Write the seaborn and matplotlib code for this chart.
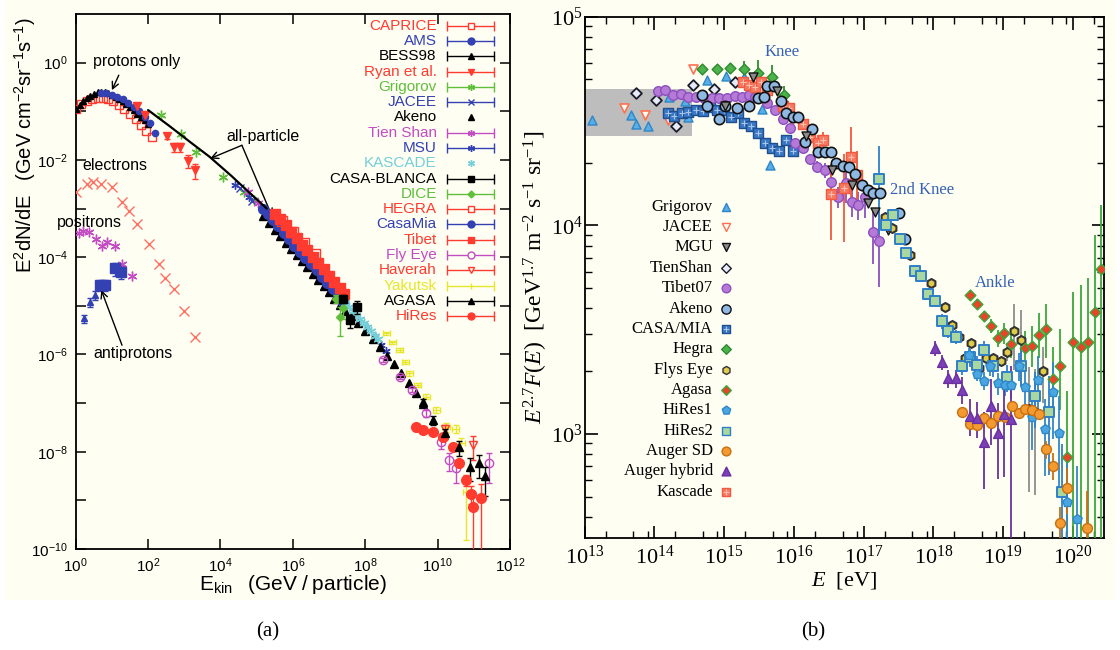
import numpy as np
import matplotlib
matplotlib.use("Agg")
import matplotlib.pyplot as plt
import seaborn as sns
from matplotlib.patches import Rectangle
from matplotlib.ticker import NullLocator, NullFormatter, FixedLocator

# ---------------- panel (a): E^2 dN/dE versus kinetic energy ----------------
caprice_E = [1.0, 1.4, 2.0, 2.8, 4.0, 5.6, 8.0, 11, 16, 22, 32, 45, 63, 90, 125]
caprice_F = [0.11, 0.14, 0.165, 0.18, 0.19, 0.19, 0.18, 0.16, 0.135, 0.11, 0.088, 0.068, 0.052, 0.04, 0.03]
ams_E = [5, 7, 10, 14, 20, 28, 40, 56, 80, 110, 160]
ams_F = [0.24, 0.235, 0.22, 0.2, 0.175, 0.15, 0.125, 0.1, 0.078, 0.058, 0.035]
bess_E = [1.0, 1.3, 1.6, 2.0, 2.5, 3.2, 4.0, 5.0, 6.3, 8, 10, 13, 16, 20, 25, 32, 40, 50, 63, 80, 100]
bess_F = [0.11, 0.135, 0.16, 0.185, 0.21, 0.23, 0.245, 0.25, 0.245, 0.235, 0.22, 0.2, 0.18, 0.16,
          0.14, 0.12, 0.105, 0.09, 0.078, 0.066, 0.056]
ryan_E = [49, 80, 330, 512, 743, 1256, 1990]
ryan_F = [0.128, 0.083, 0.031, 0.0186, 0.0186, 0.0096, 0.0062]
ryan_err = [0.1, 0.12, 0.15, 0.2, 0.2, 0.3, 0.35]
grigorov_E = [228, 828, 2120, 1.17e4, 4.5e4, 8.7e4]
grigorov_F = [0.083, 0.034, 0.0147, 0.0045, 0.0022, 0.0015]
jacee_E = [3.5e4, 7.2e4, 3.5e5]
jacee_F = [0.0026, 0.0014, 0.0008]
tienshan_E = [5.8e4, 1.1e5]
tienshan_F = [0.0022, 0.0013]
msu_E = [2.5e4, 6e4, 1.1e8, 1.8e8, 2.8e8, 3.8e8]
msu_F = [0.0031, 0.0017, 3.7e-6, 2.4e-6, 1.6e-6, 1.2e-6]
allpart_E = [100, 400, 1500, 5000, 2e4, 8e4, 1.9e5]
allpart_F = [0.106, 0.049, 0.0229, 0.0116, 0.0047, 0.0018, 0.001]
tibet_E = [3.2e5, 4.5e5, 6.3e5, 8.9e5, 1.26e6, 1.78e6, 2.5e6, 3.5e6, 5.0e6, 7.1e6, 1.0e7, 1.4e7, 2.0e7, 2.6e7]
tibet_F = [7.9e-4, 6.0e-4, 4.5e-4, 3.3e-4, 2.45e-4, 1.8e-4, 1.38e-4, 1.02e-4, 7.6e-5, 5.6e-5,
           4.2e-5, 3.1e-5, 2.3e-5, 1.74e-5]
casamia_E = [1.5e5, 2.0e5, 2.8e5, 4.0e5, 5.6e5, 7.9e5, 1.1e6, 1.6e6, 2.2e6, 3.2e6, 4.5e6, 6.3e6,
             8.9e6, 1.26e7, 1.8e7, 2.5e7]
casamia_F = [1.0e-3, 7.8e-4, 5.8e-4, 4.3e-4, 3.2e-4, 2.35e-4, 1.74e-4, 1.29e-4, 9.8e-5, 7.2e-5,
             5.4e-5, 4.0e-5, 2.95e-5, 2.2e-5, 1.62e-5, 1.2e-5]
akeno_E = [1.5e5, 2.2e5, 3.2e5, 4.5e5, 6.3e5, 8.9e5, 1.26e6, 1.8e6, 2.5e6, 3.5e6, 5.0e6, 7.1e6,
           1.0e7, 1.4e7, 2.0e7, 2.8e7, 4e7, 6.3e7, 1e8, 1.6e8, 2.5e8, 4e8, 6.3e8, 1e9, 1.6e9,
           2.5e9, 4e9]
akeno_F = [7.1e-4, 5.0e-4, 3.7e-4, 2.75e-4, 2.0e-4, 1.5e-4, 1.12e-4, 8.3e-5, 6.2e-5, 4.6e-5,
           3.4e-5, 2.6e-5, 1.9e-5, 1.4e-5, 1.05e-5, 7.8e-6, 6.3e-6, 4.4e-6, 3.0e-6, 2.1e-6,
           1.41e-6, 9.5e-7, 6.3e-7, 4.2e-7, 2.6e-7, 1.58e-7, 9.5e-8]
hegra_E = [5e5, 1e6, 2e6, 4e6]
hegra_F = [5.6e-4, 3.3e-4, 1.95e-4, 1.15e-4]
casablanca_E = [2.4e7, 3.7e7, 5.9e7]
casablanca_F = [1.4e-5, 5.1e-6, 9.5e-6]
casablanca_err = [0.2, 0.3, 0.3]
dice_E = [1.6e7, 2.0e7, 2.4e7]
dice_F = [1.4e-5, 6.0e-6, 9.0e-6]
dice_err = [0.2, 0.6, 0.4]
kascade_E = [2.8e7, 3.5e7, 4.5e7, 5.6e7, 7e7, 9e7, 1.1e8, 1.4e8, 1.8e8, 2.2e8]
kascade_F = [1.12e-5, 9.5e-6, 7.8e-6, 6.5e-6, 5.4e-6, 4.4e-6, 3.7e-6, 3.0e-6, 2.45e-6, 2.1e-6]
yakutsk_E = [3.8e8, 5.6e8, 8.9e8, 1.26e9, 1.66e9, 2.8e9, 4.8e9, 9.1e9, 1.7e10, 3.2e10, 4.5e10, 6.2e10]
yakutsk_F = [2.7e-6, 1.78e-6, 1.23e-6, 7.1e-7, 4.1e-7, 2.4e-7, 1.35e-7, 7.2e-8, 3.2e-8, 3.0e-8,
             1.48e-8, 1.5e-9]
yakutsk_err = [0.08, 0.08, 0.08, 0.1, 0.1, 0.1, 0.12, 0.15, 0.2, 0.2, 0.3, 0.9]
flyeye_E = [3.1e8, 8.9e8, 2.0e9, 4.8e9, 1.26e10, 2.1e10, 3.2e10, 2.7e11]
flyeye_F = [7.6e-7, 3.5e-7, 1.86e-7, 6.2e-8, 1.6e-8, 6.8e-9, 4.6e-9, 5.8e-9]
flyeye_err = [0.1, 0.1, 0.1, 0.15, 0.3, 0.4, 0.5, 0.6]
haverah_E = [1.6e10, 9.3e10]
haverah_F = [3.0e-8, 1.38e-8]
haverah_err = [0.2, 0.5]
agasa_a_E = [3.9e9, 7.4e9, 1.6e10, 4.0e10, 7.6e10, 1.35e11, 2.0e11]
agasa_a_F = [1.07e-7, 4.5e-8, 2.4e-8, 1.26e-8, 4.9e-9, 5.8e-9, 3.1e-9]
agasa_a_err = [0.15, 0.2, 0.25, 0.35, 0.5, 0.5, 0.6]
hires_a_E = [2.6e9, 3.9e9, 7.4e9, 1.38e10, 2.6e10, 4.0e10, 6.2e10, 8.3e10, 9.3e10, 1.6e11]
hires_a_F = [3.2e-8, 2.8e-8, 2.6e-8, 2.0e-8, 1.26e-8, 5.8e-9, 2.6e-9, 1.38e-9, 7.4e-10, 1.1e-9]
hires_a_err = [0.05, 0.05, 0.05, 0.08, 0.1, 0.15, 0.25, 0.4, 0.99, 0.99]
electron_E = [1.05, 2.07, 3.0, 4.95, 10, 19.2, 29.8, 49.3, 104, 200, 297, 512, 986, 1950]
electron_F = [2.15e-3, 3.13e-3, 3.56e-3, 3.13e-3, 2.8e-3, 1.38e-3, 8.9e-4, 4.8e-4, 1.83e-4,
              7.2e-5, 3.66e-5, 2.18e-5, 7.9e-6, 2.24e-6]
positron_E = [1.2, 1.56, 2.3, 3.73, 5.4, 7.5, 12.4, 19.2, 37]
positron_F = [3.08e-4, 3.44e-4, 3.23e-4, 2.35e-4, 1.69e-4, 2.08e-4, 1.69e-4, 7.1e-5, 4.1e-5]
pbar_bess_E = [1.73, 2.52, 3.49]
pbar_bess_F = [5.5e-6, 1.21e-5, 1.66e-5]
pbar_bess_err = [0.2, 0.2, 0.2]
pbar_ams_E = [4.65, 6.44, 11.9, 18]
pbar_ams_F = [2.67e-5, 2.67e-5, 5.9e-5, 5.0e-5]
pbar_ams_err = [0.25, 0.25, 0.3, 0.3]

# axis ticks of panel (a)
a_xticks = [1e0, 1e2, 1e4, 1e6, 1e8, 1e10, 1e12]
a_yticks = [1e-10, 1e-8, 1e-6, 1e-4, 1e-2, 1e0]
a_yticks_unlabelled = [1e-9, 1e-7, 1e-5, 1e-3, 1e-1]

# ---------------- panel (b): E^2.7 F(E) versus energy ----------------
band_E = [1e13, 3.5e14]
band_lo, band_hi = 2.68e4, 4.49e4

grig_E = [1.26e13, 4.57e13, 5.5e13, 8.1e13, 1.62e14, 2.75e14, 3.02e14, 5.75e14, 1.07e15, 1.95e15, 3.47e15, 4.47e15]
grig_F = [3.2e4, 3.38e4, 3.06e4, 2.99e4, 4.11e4, 3.96e4, 3.32e4, 4.98e4, 5.2e4, 5.12e4, 3.6e4, 1.95e4]
jac_E = [3.72e13, 7.41e13, 1.55e14, 3.63e14]
jac_F = [3.64e4, 3.38e4, 3.2e4, 5.61e4]
mgu_E = [1.02e15, 2.57e15, 5.75e15, 1.51e16, 3.47e16, 6.92e16, 1.17e17, 1.45e17, 2.24e17]
mgu_F = [3.73e4, 5.12e4, 4.38e4, 2.68e4, 1.84e4, 1.56e4, 1.28e4, 1.16e4, 9.5e3]
tsh_E = [5.37e13, 1.07e14, 2.04e14, 3.63e14, 7.08e14, 1.41e15]
tsh_F = [4.3e4, 3.99e4, 2.99e4, 4.71e4, 4.49e4, 4.89e4]
tib_E = [1.12e14, 1.41e14, 1.86e14, 2.4e14, 3.02e14, 3.89e14, 5.13e14, 6.76e14, 8.51e14, 1.1e15,
         1.41e15, 1.78e15, 2.29e15, 2.75e15, 4.17e15, 5.37e15, 6.92e15, 8.71e15, 1.05e16, 1.35e16,
         1.7e16, 2.14e16, 2.75e16, 3.39e16, 4.27e16, 5.5e16, 6.76e16, 8.32e16, 1.05e17, 1.35e17, 1.66e17]
tib_F = [4.38e4, 4.46e4, 4.22e4, 4.27e4, 4.14e4, 4.14e4, 4.06e4, 4.09e4, 4.06e4, 4.09e4,
         4.17e4, 4.14e4, 4.22e4, 4.14e4, 3.87e4, 3.57e4, 3.22e4, 2.92e4, 2.49e4, 2.34e4,
         2.09e4, 1.91e4, 1.84e4, 1.62e4, 1.37e4, 1.6e4, 1.29e4, 1.25e4, 1.36e4, 9.3e3, 8.4e3]
tib_err = [0] * 19 + [0.04, 0.05, 0.06, 0.08, 0.1, 0.12, 0.2, 0.15, 0.15, 0.2, 0.3, 0.4]
ake_E = [4.79e14, 5.75e14, 8.51e14, 1.02e15, 1.51e15, 2.29e15, 3.09e15, 3.72e15, 4.17e15, 5.13e15,
         6.46e15, 7.76e15, 9.77e15, 1.15e16, 1.45e16, 1.82e16, 2.24e16, 2.75e16, 3.39e16, 4.07e16,
         5.01e16, 6.17e16, 7.41e16, 9.33e16, 1.15e17, 1.38e17, 1.7e17, 3.16e17, 3.89e17]
ake_F = [4.22e4, 3.73e4, 3.24e4, 3.73e4, 3.64e4, 3.73e4, 4.06e4, 4.14e4, 4.66e4, 4.66e4,
         3.96e4, 3.47e4, 3.32e4, 3.3e4, 2.52e4, 2.88e4, 2.25e4, 2.25e4, 2.25e4, 2.0e4,
         1.93e4, 1.9e4, 1.77e4, 1.56e4, 1.48e4, 1.43e4, 1.43e4, 1.14e4, 8.6e3]
cm_E = [1.55e14, 1.91e14, 2.45e14, 3.02e14, 3.89e14, 5.01e14, 6.17e14, 7.94e14, 1.0e15, 1.26e15,
        1.58e15, 1.95e15, 2.45e15, 3.09e15, 3.89e15, 4.79e15, 6.03e15, 7.59e15, 9.77e15]
cm_F = [3.44e4, 3.34e4, 3.44e4, 3.51e4, 3.57e4, 3.55e4, 3.68e4, 3.57e4, 3.57e4, 3.3e4,
        3.44e4, 3.1e4, 2.99e4, 2.78e4, 2.47e4, 2.34e4, 2.28e4, 2.56e4, 2.28e4]
heg_E = [4.79e14, 7.94e14, 1.23e15, 1.95e15, 3.09e15, 4.9e15, 7.24e15]
heg_F = [5.6e4, 5.6e4, 5.66e4, 5.6e4, 5.4e4, 5.12e4, 4.22e4]
heg_err = [0, 0, 0.06, 0.1, 0.15, 0.15, 0.1]
kas_E = [1.86e15, 2.29e15, 2.75e15, 3.39e15, 4.17e15, 6.92e15, 8.51e15, 1.05e16, 1.35e16, 1.7e16,
         2.19e16, 2.63e16, 3.39e16, 5.25e16, 6.61e16, 8.13e16]
kas_F = [4.89e4, 4.71e4, 4.59e4, 4.89e4, 4.46e4, 3.73e4, 3.64e4, 3.32e4, 3.06e4, 2.66e4,
         2.47e4, 2.55e4, 1.41e4, 1.51e4, 2.12e4, 1.74e4]
kas_err = [0] * 10 + [0.1, 0.1, 0.4, 0.45, 0.4, 0.3]
fly_E = [2.0e17, 2.51e17, 4.68e17, 9.12e17, 1.45e18, 1.82e18, 2.29e18, 2.82e18, 3.47e18, 4.47e18,
         5.75e18, 7.24e18, 9.33e18, 1.15e19, 1.41e19, 1.82e19, 2.34e19, 2.88e19, 3.72e19]
fly_F = [1.1e4, 9.7e3, 7.2e3, 5.27e3, 4.07e3, 3.33e3, 2.93e3, 2.31e3, 2.72e3, 2.07e3,
         2.31e3, 2.31e3, 2.23e3, 2.48e3, 3.1e3, 2.81e3, 1.31e3, 1.28e3, 2.01e3]
fly_err = [0] * 13 + [0.1, 0.35, 0.4, 0.6, 0.6, 0.3]
hr2_E = [1.66e17, 2.09e17, 2.63e17, 3.31e17, 4.07e17, 5.37e17, 6.61e17, 8.32e17, 1.05e18, 1.32e18,
         1.62e18, 2.09e18, 2.57e18, 3.31e18, 4.17e18, 5.25e18, 7.24e18, 1.15e19, 1.82e19, 2.88e19,
         4.57e19, 7.08e19]
hr2_F = [1.66e4, 1.0e4, 1.12e4, 8.57e3, 7.35e3, 6.07e3, 5.73e3, 4.69e3, 4.32e3, 3.46e3,
         3.13e3, 2.93e3, 2.12e3, 2.33e3, 2.15e3, 2.53e3, 2.12e3, 1.87e3, 2.12e3, 1.52e3, 1.27e3, 525]
hr2_err = [0.45, 0.06, 0.06, 0.06, 0.06, 0.06, 0.06, 0.06, 0.06, 0.08, 0.08, 0.08, 0.1, 0.1,
           0.1, 0.1, 0.12, 0.15, 0.2, 0.3, 0.5, 0.7]
hr1_E = [3.24e18, 4.17e18, 5.25e18, 6.46e18, 8.32e18, 1.05e19, 1.29e19, 1.66e19, 2.04e19, 2.57e19,
         3.16e19, 3.98e19, 5.13e19, 6.31e19, 8.13e19, 1.15e20]
hr1_F = [2.39e3, 1.94e3, 1.8e3, 2.11e3, 1.75e3, 1.72e3, 1.72e3, 2.12e3, 1.68e3, 1.2e3,
         1.82e3, 1.05e3, 1.58e3, 1.01e3, 471, 391]
hr1_err = [0.08, 0.08, 0.1, 0.1, 0.12, 0.12, 0.15, 0.15, 0.2, 0.3, 0.3, 0.4, 0.4, 0.5, 0.6, 0.8]
asd_E = [2.57e18, 3.31e18, 4.17e18, 5.25e18, 6.61e18, 8.32e18, 1.05e19, 1.32e19, 1.66e19, 2.04e19,
         2.63e19, 3.24e19, 4.07e19, 5.13e19, 6.46e19, 8.13e19, 1.58e20]
asd_F = [1.28e3, 1.12e3, 1.1e3, 1.19e3, 1.13e3, 1.22e3, 1.2e3, 1.36e3, 1.26e3, 1.32e3,
         1.3e3, 1.24e3, 845, 705, 372, 550, 354]
asd_err = [0.03] * 11 + [0.05, 0.1, 0.15, 0.2, 0.25, 0.5]
ahy_E = [1.05e18, 1.32e18, 1.62e18, 2.09e18, 2.57e18, 3.31e18, 4.17e18, 5.25e18, 6.61e18, 8.32e18,
         1.02e19, 1.29e19]
ahy_F = [2.58e3, 2.2e3, 1.85e3, 1.85e3, 1.63e3, 1.22e3, 1.19e3, 910, 1.36e3, 1.01e3, 1.24e3, 1.18e3]
ahy_err = [0.08, 0.08, 0.1, 0.1, 0.15, 0.2, 0.2, 0.4, 0.35, 0.4, 0.5, 0.8]
aga_E = [3.31e18, 4.17e18, 5.25e18, 6.61e18, 8.32e18, 1.02e19, 1.29e19, 2.04e19, 2.57e19, 3.24e19,
         4.07e19, 5.13e19, 6.46e19, 8.13e19, 1.0e20, 1.29e20, 1.62e20, 2.04e20, 2.57e20]
aga_F = [4.63e3, 4.21e3, 3.68e3, 3.3e3, 2.88e3, 3.04e3, 2.7e3, 2.58e3, 2.65e3, 2.99e3,
         3.18e3, 1.83e3, 2.11e3, 774, 2.77e3, 2.6e3, 2.77e3, 3.82e3, 6.15e3]
aga_lo = [4.4e3, 4.0e3, 3.45e3, 3.05e3, 2.6e3, 2.7e3, 2.3e3, 2.1e3, 2.1e3, 2.3e3,
          2.3e3, 1.2e3, 1.3e3, 320, 300, 300, 300, 300, 300]
aga_hi = [4.9e3, 4.45e3, 3.9e3, 3.55e3, 3.15e3, 3.4e3, 3.1e3, 3.1e3, 3.3e3, 3.8e3,
          4.2e3, 2.6e3, 3.2e3, 1.6e3, 4.8e3, 5.2e3, 5.6e3, 9.0e3, 1.25e4]

# axis ticks of panel (b)
b_xticks = [1e13, 1e14, 1e15, 1e16, 1e17, 1e18, 1e19, 1e20]
b_xminor_subs = [2, 5, 8]
b_yticks = [1e3, 1e4, 1e5]
b_yminor_subs = [2, 3, 4, 5, 6, 7, 8, 9]

# ---------------- styling ----------------
sns.set_theme(style="ticks")
plt.rcParams.update({
    "font.family": ["Liberation Sans", "DejaVu Sans"],
    "mathtext.fontset": "custom",
    "mathtext.rm": "Liberation Serif",
    "mathtext.it": "Liberation Serif:italic",
    "mathtext.bf": "Liberation Serif:bold",
    "mathtext.sf": "Liberation Sans",
    "axes.edgecolor": "black",
    "text.color": "black",
    "axes.labelcolor": "black",
    "xtick.color": "black",
    "ytick.color": "black",
})

CREAM = "#fffef3"
RED, BLUE, GREEN = "#ff3b30", "#3341b2", "#5fbf3b"
MAG, CYAN, YEL, LRED = "#c24cc2", "#74cfd9", "#e6e62a", "#ff6f62"
ASTER = (6, 2, 0)

fig = plt.figure(figsize=(11.2, 6.5), dpi=100, facecolor="white")
fig.add_artist(Rectangle((0.0036, 0.077), 0.9928, 0.923, transform=fig.transFigure,
                         facecolor=CREAM, edgecolor="none", zorder=-10))

axL = fig.add_axes([0.0676, 0.1554, 0.3878, 0.823], facecolor=CREAM)
axR = fig.add_axes([0.522, 0.1728, 0.4638, 0.8015], facecolor=CREAM)
for ax in (axL, axR):
    ax.set_xscale("log")
    ax.set_yscale("log")
    for sp in ax.spines.values():
        sp.set_linewidth(1.3)
        sp.set_color("black")


def lseries(E, F, marker, color, ms, filled=True, err=None, xerr_frac=None, cap=2.5, mew=1.0, z=3):
    E = np.asarray(E, float)
    F = np.asarray(F, float)
    yerr = None
    if err is not None:
        fr = np.asarray(err, float)
        yerr = [F * np.minimum(fr, 0.97), F * fr]
    xerr = None
    if xerr_frac is not None:
        xerr = [E * xerr_frac / (1 + xerr_frac), E * xerr_frac]
    axL.errorbar(E, F, yerr=yerr, xerr=xerr, fmt="", marker=marker, linestyle="none",
                 color=color, ms=ms, mfc=color if filled else "none", mec=color, mew=mew,
                 elinewidth=1.0, capsize=cap, capthick=1.0, zorder=z)


# ---- panel (a) ----
axL.set_xlim(1, 1e12)
axL.set_ylim(1e-10, 10)

lseries(electron_E, electron_F, "x", LRED, 6.5, mew=1.0)
lseries(positron_E, positron_F, ASTER, MAG, 7, mew=1.0)
lseries(pbar_bess_E, pbar_bess_F, "^", BLUE, 5, err=pbar_bess_err)
lseries(pbar_ams_E, pbar_ams_F, "s", BLUE, 7, err=pbar_ams_err)

lseries(caprice_E, caprice_F, "s", RED, 6, filled=False)
lseries(bess_E, bess_F, "^", "black", 4.5)
lseries(ams_E, ams_F, "o", BLUE, 4.5)
lseries(ryan_E, ryan_F, "v", RED, 5.5, err=ryan_err)
sns.lineplot(x=allpart_E, y=allpart_F, color="black", lw=1.6, ax=axL, zorder=4)
lseries(grigorov_E, grigorov_F, ASTER, GREEN, 7)
lseries(jacee_E, jacee_F, "x", BLUE, 6)
lseries(tienshan_E, tienshan_F, ASTER, MAG, 7)
lseries(msu_E, msu_F, ASTER, BLUE, 6)

lseries(akeno_E, akeno_F, "^", "black", 6, z=3)
lseries(casamia_E, casamia_F, "o", BLUE, 7, z=3.2)
lseries(tibet_E, tibet_F, "s", RED, 7, z=3.4)
lseries(hegra_E, hegra_F, "s", RED, 6.5, filled=False, z=3.5)
lseries(kascade_E, kascade_F, ASTER, CYAN, 7, z=3.3)
lseries(dice_E, dice_F, "D", GREEN, 4.5, err=dice_err, z=3.6)
lseries(casablanca_E, casablanca_F, "s", "black", 6, err=casablanca_err, z=3.7)
lseries(yakutsk_E, yakutsk_F, "none", YEL, 5, err=yakutsk_err, xerr_frac=0.25, cap=2, z=3.1)
lseries(flyeye_E, flyeye_F, "o", MAG, 6, filled=False, err=flyeye_err, z=3.2)
lseries(haverah_E, haverah_F, "v", RED, 6, filled=False, err=haverah_err, z=3.3)
lseries(agasa_a_E, agasa_a_F, "^", "black", 5.5, err=agasa_a_err, z=3.5)
lseries(hires_a_E, hires_a_F, "o", RED, 7, err=hires_a_err, z=3.4)

axL.xaxis.set_major_locator(FixedLocator(a_xticks))
axL.xaxis.set_minor_locator(NullLocator())
axL.yaxis.set_major_locator(FixedLocator(a_yticks))
axL.yaxis.set_minor_locator(FixedLocator(a_yticks_unlabelled))
axL.yaxis.set_minor_formatter(NullFormatter())
axL.tick_params(which="both", direction="in", top=True, right=True, length=7, width=1.1,
                labelsize=11, labelfontfamily="Liberation Sans")
axL.tick_params(axis="x", pad=5)
axL.tick_params(axis="y", pad=6)

axL.set_xlabel(r"$\mathdefault{E_{kin}\ \ \ (GeV\ /\ particle)}$", fontsize=15)
axL.xaxis.set_label_coords(0.5, -0.045)
axL.set_ylabel(r"$\mathdefault{E^2dN/dE\ \ \ (GeV\ cm^{-2}sr^{-1}s^{-1})}$", fontsize=14.5)
axL.yaxis.set_label_coords(-0.087, 0.755)

arrow = dict(arrowstyle="->", lw=1.0, color="black", shrinkA=0, shrinkB=0, mutation_scale=12)
axL.text(49, 1.07, "protons only", fontsize=11.5, ha="center", va="center")
axL.annotate("", xy=(10, 0.272), xytext=(15.5, 0.553), arrowprops=arrow)
axL.text(1.5e5, 0.031, "all-particle", fontsize=11.5, ha="center", va="center")
axL.annotate("", xy=(5.2e3, 0.0107), xytext=(3.9e4, 0.02), arrowprops=arrow)
axL.annotate("", xy=(2.7e5, 6.8e-4), xytext=(3.9e4, 0.02), arrowprops=arrow)
axL.text(12, 7.6e-3, "electrons", fontsize=11.5, ha="center", va="center")
axL.text(2.45, 5.2e-4, "positrons", fontsize=11.5, ha="center", va="center")
axL.text(38, 1.07e-6, "antiprotons", fontsize=11.5, ha="center", va="center")
axL.annotate("", xy=(5.1, 2.1e-5), xytext=(19, 1.55e-6), arrowprops=arrow)

left_legend = [
    ("CAPRICE", RED, "s", False, True), ("AMS", BLUE, "o", True, True),
    ("BESS98", "black", "^", True, True), ("Ryan et al.", RED, "v", True, True),
    ("Grigorov", GREEN, ASTER, True, True), ("JACEE", BLUE, "x", True, True),
    ("Akeno", "black", "^", True, False), ("Tien Shan", MAG, ASTER, True, True),
    ("MSU", BLUE, ASTER, True, True), ("KASCADE", CYAN, ASTER, True, False),
    ("CASA-BLANCA", "black", "s", True, True), ("DICE", GREEN, "D", True, True),
    ("HEGRA", RED, "s", False, True), ("CasaMia", BLUE, "o", True, True),
    ("Tibet", RED, "s", True, True), ("Fly Eye", MAG, "o", False, True),
    ("Haverah", RED, "v", False, True), ("Yakutsk", YEL, "|", True, True),
    ("AGASA", "black", "^", True, True), ("HiRes", RED, "o", True, True),
]
for i, (lab, col, mk, filled, bar) in enumerate(left_legend):
    yy = 0.978 - i * 0.02856
    axL.text(0.831, yy, lab, color=col, ha="right", va="center", fontsize=11,
             transform=axL.transAxes)
    if bar:
        axL.plot([0.8556, 0.963], [yy, yy], color=col, lw=1.0, transform=axL.transAxes)
        axL.plot([0.8556, 0.963], [yy, yy], ls="none", marker="|", ms=7, mew=1.0, color=col,
                 transform=axL.transAxes)
    axL.plot([0.909], [yy], ls="none", marker=mk, ms=5 if mk != "D" else 3.5, mew=1.0,
             mfc=col if filled else CREAM, mec=col, color=col, transform=axL.transAxes)


# ---- panel (b) ----
def rseries(E, F, marker, face, edge, size, err=None, lo=None, hi=None, ecolor=None,
            lw=1.0, z=3, inner=None):
    E = np.asarray(E, float)
    F = np.asarray(F, float)
    yerr = None
    if err is not None:
        fr = np.asarray(err, float)
        yerr = [F * np.minimum(fr, 0.95), F * fr]
    if lo is not None:
        yerr = [F - np.asarray(lo, float), np.asarray(hi, float) - F]
    if yerr is not None:
        axR.errorbar(E, F, yerr=yerr, fmt="none", ecolor=ecolor or edge, elinewidth=1.3,
                     zorder=z - 0.5)
    sns.scatterplot(x=E, y=F, marker=marker, s=size, color=face, edgecolor=edge, linewidth=lw,
                    ax=axR, zorder=z, legend=False)
    if inner is not None:
        axR.plot(E, F, ls="none", marker="+", ms=np.sqrt(size) * 0.75, mew=0.8, color=inner,
                 zorder=z + 0.1)


axR.set_xlim(1e13, 2.8e20)
axR.set_ylim(318, 1e5)
axR.fill_between(band_E, band_lo, band_hi, color="#bdbdbd", lw=0, zorder=1)

STYLE = {
    "Grigorov": ("^", "#5aaee6", "#2e86c8", 42, None),
    "JACEE": ("v", CREAM, "#ff7050", 42, None),
    "MGU": ("v", "#8a8a8a", "#111111", 42, None),
    "TienShan": ("D", "#e6ebf5", "#1a1a2a", 30, None),
    "Tibet07": ("o", "#b57ad6", "#8c4fbf", 48, None),
    "Akeno": ("o", "#8fb9e3", "#111111", 55, None),
    "CASA/MIA": ("s", "#3a78c4", "#1e4f90", 42, "#a8c6ec"),
    "Hegra": ("D", "#4cb34c", "#2e8b2e", 30, None),
    "Flys Eye": ("h", "#e0cc4a", "#333333", 42, None),
    "Agasa": ("D", "#e8442a", "#3aa83a", 30, None),
    "HiRes1": ("p", "#4aa6e0", "#2f88c8", 50, None),
    "HiRes2": ("s", "#a8d8a0", "#2f7fc8", 50, None),
    "Auger SD": ("o", "#f39a30", "#c87010", 50, None),
    "Auger hybrid": ("^", "#7b3fb8", "#6a30a0", 50, None),
    "Kascade": ("s", "#f77a62", "#f05a40", 42, "#ffc0b0"),
}


def draw(name, E, F, z, **kw):
    mk, fc, ec, s, inner = STYLE[name]
    rseries(E, F, mk, fc, ec, s, z=z, inner=inner, **kw)


draw("Grigorov", grig_E, grig_F, 3.0)
draw("JACEE", jac_E, jac_F, 3.0, lw=1.2)
draw("TienShan", tsh_E, tsh_F, 3.1, lw=1.3)
draw("CASA/MIA", cm_E, cm_F, 3.2)
draw("Tibet07", tib_E, tib_F, 3.3, err=tib_err)
draw("Hegra", heg_E, heg_F, 3.4, err=heg_err)
draw("Kascade", kas_E, kas_F, 3.5, err=kas_err)
draw("Akeno", ake_E, ake_F, 3.6, lw=1.2)
draw("MGU", mgu_E, mgu_F, 3.7)
draw("Flys Eye", fly_E, fly_F, 3.8, err=fly_err, ecolor="#8c8c8c", lw=1.5)
draw("HiRes2", hr2_E, hr2_F, 3.9, err=hr2_err, lw=1.4)
draw("Agasa", aga_E, aga_F, 4.0, lo=aga_lo, hi=aga_hi, ecolor="#3aa83a")
draw("HiRes1", hr1_E, hr1_F, 4.1, err=hr1_err)
draw("Auger SD", asd_E, asd_F, 4.2, err=asd_err)
draw("Auger hybrid", ahy_E, ahy_F, 4.3, err=ahy_err)

x_lo, x_hi = axR.get_xlim()
y_lo, y_hi = axR.get_ylim()
b_xminor = [s * d for d in [1e12] + b_xticks for s in b_xminor_subs if x_lo < s * d < x_hi]
b_yminor = [s * d for d in [1e2] + b_yticks for s in b_yminor_subs if y_lo < s * d < y_hi]
axR.xaxis.set_major_locator(FixedLocator(b_xticks))
axR.xaxis.set_minor_locator(FixedLocator(b_xminor))
axR.yaxis.set_major_locator(FixedLocator(b_yticks))
axR.yaxis.set_minor_locator(FixedLocator(b_yminor))
axR.xaxis.set_minor_formatter(NullFormatter())
axR.yaxis.set_minor_formatter(NullFormatter())
axR.tick_params(which="major", direction="in", top=True, right=True, length=9, width=1.2,
                labelsize=16, labelfontfamily="Liberation Serif")
axR.tick_params(which="minor", direction="in", top=True, right=True, length=5, width=1.0)
axR.tick_params(axis="x", pad=6)
axR.tick_params(axis="y", pad=1.5)

axR.set_xlabel(r"$E$  [eV]", fontsize=16, fontfamily="Liberation Serif")
axR.xaxis.set_label_coords(0.5, -0.062)
axR.set_ylabel(r"$E^{2.7}F(E)$  [GeV$^{1.7}$ m$^{-2}$ s$^{-1}$ sr$^{-1}$]", fontsize=17,
               fontfamily="Liberation Serif")
axR.yaxis.set_label_coords(-0.067, 0.5)

NOTE = "#3562b5"
axR.text(6.8e15, 6.8e4, "Knee", color=NOTE, fontsize=12, fontfamily="Liberation Serif",
         ha="center", va="center")
axR.text(6.8e17, 1.48e4, "2nd Knee", color=NOTE, fontsize=12, fontfamily="Liberation Serif",
         ha="center", va="center")
axR.text(7.6e18, 5.3e3, "Ankle", color=NOTE, fontsize=12, fontfamily="Liberation Serif",
         ha="center", va="center")

right_legend = ["Grigorov", "JACEE", "MGU", "TienShan", "Tibet07", "Akeno", "CASA/MIA", "Hegra",
                "Flys Eye", "Agasa", "HiRes1", "HiRes2", "Auger SD", "Auger hybrid", "Kascade"]
for i, name in enumerate(right_legend):
    yy = 0.6353 - i * 0.03908
    mk, fc, ec, s, inner = STYLE[name]
    axR.text(0.2468, yy, name, ha="right", va="center", fontsize=12,
             fontfamily="Liberation Serif", transform=axR.transAxes)
    axR.scatter([0.2722], [yy], marker=mk, s=s * 0.8, c=fc, edgecolors=ec, linewidths=1.0,
                transform=axR.transAxes, zorder=5)
    if inner is not None:
        axR.plot([0.2722], [yy], marker="+", ms=4.5, mew=0.8, color=inner,
                 transform=axR.transAxes, zorder=5.1)

fig.text(268 / 1120, 1 - 632 / 650, "(a)", fontsize=15, fontfamily="Liberation Serif",
         ha="center", va="center")
fig.text(813 / 1120, 1 - 632 / 650, "(b)", fontsize=15, fontfamily="Liberation Serif",
         ha="center", va="center")

fig.savefig("out.png", dpi=100, facecolor="white")
